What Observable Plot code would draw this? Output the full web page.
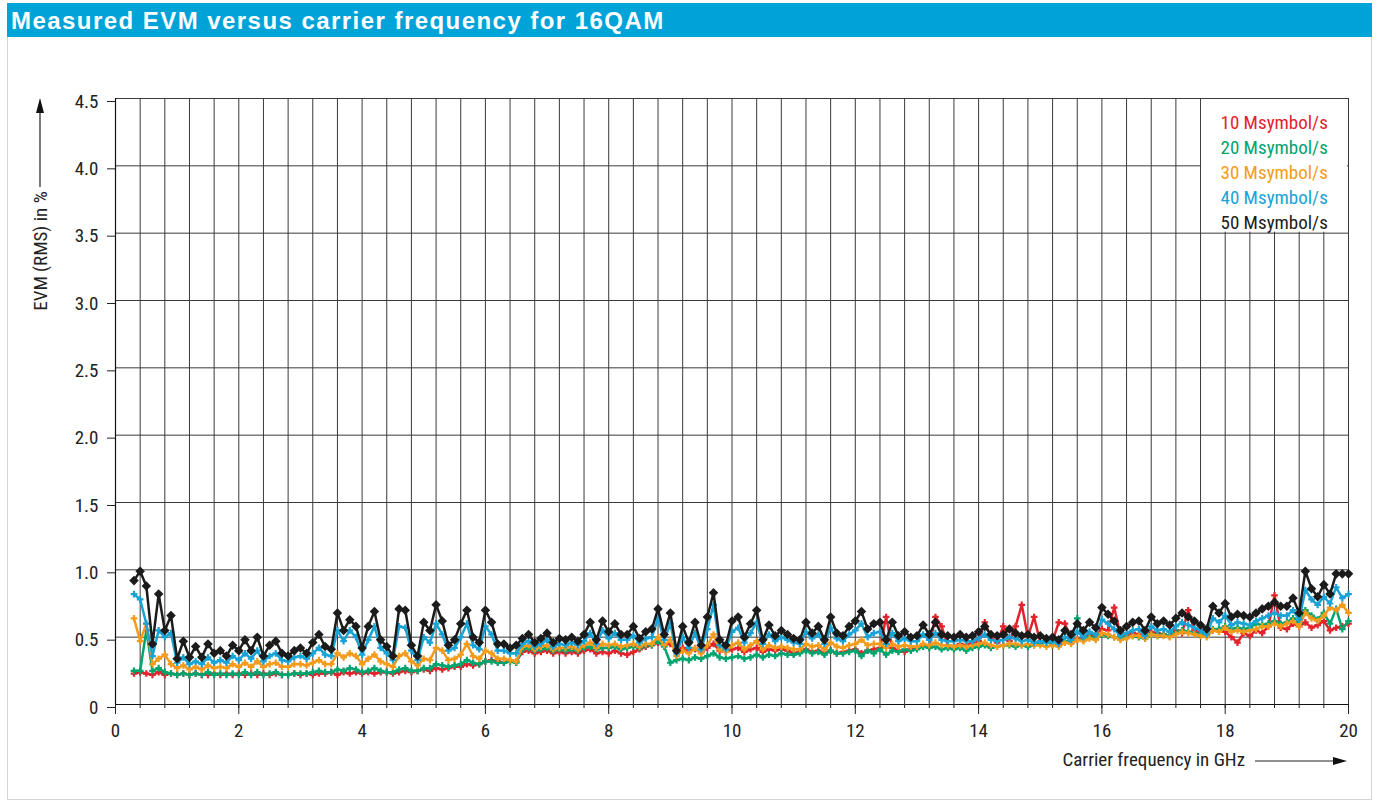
<!DOCTYPE html>
<html><head><meta charset="utf-8">
<script src="https://cdn.jsdelivr.net/npm/d3@7"></script>
<script src="https://cdn.jsdelivr.net/npm/@observablehq/plot@0.6"></script>
<style>
body{margin:0;background:#fff;}
#frame{position:absolute;left:7px;top:3px;width:1365px;height:797px;border:1px solid #d3d6d8;border-top:none;box-sizing:border-box;}
#title{position:absolute;left:7px;top:3px;width:1365px;height:34px;background:#00a3d7;color:#fff;font:bold 24px "Liberation Sans",Arial,sans-serif;letter-spacing:1.45px;line-height:35px;padding-left:4px;box-sizing:border-box;white-space:nowrap;}
#chart{position:absolute;left:8px;top:37px;}
</style></head>
<body>
<div id="frame"></div>
<div id="title">Measured EVM versus carrier frequency for 16QAM</div>
<div id="chart"></div>
<script>
const FONT = '"Liberation Sans Narrow","Roboto Condensed","DejaVu Sans Condensed","Liberation Sans",sans-serif';

// Carrier frequency in GHz
const freqGHz = [
 0.3,0.4,0.5,0.6,0.7,0.8,0.9,
 1.0,1.1,1.2,1.3,1.4,1.5,1.6,1.7,1.8,1.9,
 2.0,2.1,2.2,2.3,2.4,2.5,2.6,2.7,2.8,2.9,
 3.0,3.1,3.2,3.3,3.4,3.5,3.6,3.7,3.8,3.9,
 4.0,4.1,4.2,4.3,4.4,4.5,4.6,4.7,4.8,4.9,
 5.0,5.1,5.2,5.3,5.4,5.5,5.6,5.7,5.8,5.9,
 6.0,6.1,6.2,6.3,6.4,6.5,6.6,6.7,6.8,6.9,
 7.0,7.1,7.2,7.3,7.4,7.5,7.6,7.7,7.8,7.9,
 8.0,8.1,8.2,8.3,8.4,8.5,8.6,8.7,8.8,8.9,
 9.0,9.1,9.2,9.3,9.4,9.5,9.6,9.7,9.8,9.9,
 10.0,10.1,10.2,10.3,10.4,10.5,10.6,10.7,10.8,10.9,
 11.0,11.1,11.2,11.3,11.4,11.5,11.6,11.7,11.8,11.9,
 12.0,12.1,12.2,12.3,12.4,12.5,12.6,12.7,12.8,12.9,
 13.0,13.1,13.2,13.3,13.4,13.5,13.6,13.7,13.8,13.9,
 14.0,14.1,14.2,14.3,14.4,14.5,14.6,14.7,14.8,14.9,
 15.0,15.1,15.2,15.3,15.4,15.5,15.6,15.7,15.8,15.9,
 16.0,16.1,16.2,16.3,16.4,16.5,16.6,16.7,16.8,16.9,
 17.0,17.1,17.2,17.3,17.4,17.5,17.6,17.7,17.8,17.9,
 18.0,18.1,18.2,18.3,18.4,18.5,18.6,18.7,18.8,18.9,
 19.0,19.1,19.2,19.3,19.4,19.5,19.6,19.7,19.8,19.9,20.0
];

// EVM (RMS) in % per symbol rate
const evm10 = [
 0.23,0.24,0.23,0.22,0.24,0.22,0.23,
 0.22,0.23,0.22,0.23,0.22,0.22,0.23,0.22,0.23,0.22,
 0.23,0.22,0.23,0.22,0.23,0.22,0.23,0.22,0.22,0.23,
 0.22,0.23,0.22,0.23,0.23,0.24,0.22,0.24,0.23,0.24,
 0.23,0.24,0.23,0.24,0.24,0.23,0.24,0.25,0.24,0.25,
 0.26,0.25,0.27,0.26,0.27,0.28,0.28,0.30,0.29,0.30,
 0.32,0.33,0.32,0.31,0.33,0.32,0.39,0.40,0.38,0.39,
 0.40,0.38,0.39,0.38,0.39,0.38,0.40,0.41,0.38,0.39,
 0.38,0.40,0.38,0.37,0.39,0.41,0.43,0.44,0.46,0.44,
 0.45,0.40,0.42,0.40,0.41,0.39,0.42,0.45,0.40,0.39,
 0.41,0.42,0.39,0.41,0.42,0.39,0.41,0.40,0.41,0.40,
 0.38,0.39,0.41,0.39,0.40,0.38,0.40,0.38,0.39,0.40,
 0.41,0.38,0.40,0.41,0.42,0.65,0.42,0.40,0.39,0.41,
 0.42,0.44,0.43,0.65,0.58,0.44,0.43,0.45,0.44,0.46,
 0.47,0.61,0.50,0.46,0.58,0.47,0.58,0.74,0.50,0.65,
 0.46,0.48,0.47,0.61,0.60,0.49,0.48,0.50,0.52,0.51,
 0.56,0.55,0.72,0.52,0.51,0.53,0.52,0.50,0.54,0.53,
 0.52,0.51,0.55,0.53,0.70,0.55,0.53,0.52,0.55,0.56,
 0.54,0.50,0.46,0.53,0.51,0.55,0.53,0.58,0.81,0.57,
 0.56,0.60,0.58,0.61,0.57,0.59,0.62,0.55,0.57,0.58,0.60
];
const evm20 = [
 0.25,0.25,0.55,0.25,0.27,0.24,0.23,
 0.22,0.23,0.22,0.23,0.22,0.24,0.22,0.23,0.22,0.23,
 0.22,0.24,0.22,0.24,0.22,0.23,0.24,0.22,0.22,0.23,
 0.23,0.23,0.24,0.25,0.24,0.24,0.26,0.25,0.27,0.26,
 0.24,0.25,0.27,0.25,0.24,0.24,0.26,0.27,0.25,0.25,
 0.27,0.27,0.30,0.29,0.28,0.29,0.30,0.33,0.31,0.30,
 0.32,0.32,0.31,0.31,0.32,0.31,0.41,0.42,0.40,0.41,
 0.42,0.40,0.41,0.40,0.41,0.40,0.42,0.43,0.41,0.42,
 0.42,0.43,0.41,0.42,0.43,0.42,0.44,0.44,0.47,0.43,
 0.31,0.33,0.34,0.33,0.35,0.34,0.36,0.38,0.35,0.34,
 0.35,0.36,0.34,0.35,0.37,0.35,0.37,0.36,0.38,0.37,
 0.37,0.38,0.40,0.38,0.39,0.37,0.40,0.38,0.38,0.39,
 0.40,0.36,0.40,0.38,0.41,0.37,0.40,0.39,0.41,0.40,
 0.41,0.43,0.42,0.43,0.41,0.42,0.41,0.42,0.40,0.42,
 0.43,0.44,0.42,0.43,0.44,0.44,0.43,0.44,0.43,0.44,
 0.45,0.47,0.44,0.45,0.47,0.46,0.64,0.48,0.50,0.49,
 0.52,0.51,0.50,0.49,0.50,0.51,0.50,0.49,0.52,0.51,
 0.52,0.51,0.53,0.55,0.54,0.53,0.52,0.52,0.56,0.56,
 0.58,0.56,0.57,0.56,0.57,0.60,0.59,0.60,0.62,0.60,
 0.61,0.64,0.60,0.70,0.66,0.63,0.68,0.60,0.71,0.56,0.62
];
const evm30 = [
 0.64,0.47,0.60,0.30,0.34,0.37,0.30,
 0.27,0.29,0.26,0.28,0.26,0.29,0.27,0.28,0.27,0.30,
 0.28,0.31,0.28,0.32,0.28,0.30,0.31,0.28,0.28,0.30,
 0.30,0.29,0.31,0.33,0.30,0.30,0.38,0.35,0.38,0.36,
 0.30,0.34,0.37,0.32,0.30,0.28,0.36,0.38,0.32,0.29,
 0.34,0.33,0.42,0.40,0.33,0.34,0.37,0.45,0.36,0.34,
 0.40,0.38,0.34,0.34,0.33,0.32,0.43,0.44,0.41,0.43,
 0.44,0.41,0.42,0.42,0.43,0.41,0.44,0.46,0.42,0.45,
 0.44,0.45,0.43,0.44,0.45,0.43,0.45,0.45,0.50,0.44,
 0.48,0.36,0.40,0.38,0.42,0.38,0.44,0.52,0.41,0.39,
 0.44,0.46,0.41,0.44,0.47,0.41,0.44,0.42,0.43,0.42,
 0.41,0.41,0.45,0.43,0.44,0.41,0.46,0.43,0.42,0.44,
 0.45,0.48,0.44,0.45,0.45,0.42,0.45,0.43,0.44,0.43,
 0.43,0.45,0.44,0.46,0.44,0.44,0.43,0.44,0.43,0.44,
 0.45,0.46,0.44,0.43,0.44,0.45,0.45,0.44,0.45,0.44,
 0.44,0.43,0.44,0.43,0.46,0.45,0.48,0.47,0.49,0.48,
 0.53,0.52,0.50,0.48,0.49,0.51,0.51,0.49,0.52,0.51,
 0.51,0.50,0.52,0.54,0.53,0.52,0.51,0.50,0.55,0.54,
 0.57,0.54,0.55,0.54,0.55,0.56,0.58,0.58,0.60,0.58,
 0.60,0.62,0.58,0.68,0.64,0.62,0.66,0.72,0.70,0.74,0.68
];
const evm40 = [
 0.82,0.78,0.60,0.36,0.55,0.50,0.53,
 0.31,0.35,0.30,0.32,0.30,0.35,0.31,0.33,0.31,0.36,
 0.33,0.38,0.34,0.40,0.32,0.36,0.38,0.33,0.32,0.35,
 0.36,0.34,0.38,0.42,0.37,0.36,0.55,0.47,0.55,0.50,
 0.37,0.48,0.58,0.42,0.38,0.33,0.58,0.57,0.40,0.33,
 0.50,0.46,0.60,0.52,0.40,0.42,0.50,0.60,0.44,0.41,
 0.58,0.52,0.40,0.40,0.38,0.38,0.45,0.47,0.43,0.45,
 0.48,0.43,0.45,0.44,0.46,0.44,0.47,0.53,0.45,0.55,
 0.49,0.53,0.48,0.48,0.51,0.46,0.49,0.50,0.64,0.48,
 0.60,0.38,0.50,0.42,0.53,0.41,0.56,0.74,0.44,0.41,
 0.54,0.57,0.46,0.53,0.61,0.45,0.52,0.47,0.50,0.48,
 0.46,0.45,0.54,0.49,0.52,0.45,0.57,0.49,0.47,0.52,
 0.55,0.60,0.50,0.53,0.54,0.45,0.53,0.47,0.49,0.47,
 0.47,0.52,0.48,0.53,0.48,0.47,0.47,0.48,0.47,0.47,
 0.49,0.52,0.48,0.47,0.48,0.50,0.49,0.47,0.48,0.46,
 0.47,0.46,0.47,0.45,0.50,0.48,0.54,0.50,0.54,0.52,
 0.63,0.60,0.56,0.51,0.53,0.55,0.56,0.51,0.58,0.55,
 0.56,0.54,0.58,0.61,0.59,0.57,0.55,0.52,0.64,0.61,
 0.66,0.59,0.61,0.60,0.59,0.62,0.64,0.66,0.68,0.66,
 0.66,0.70,0.63,0.85,0.78,0.74,0.80,0.75,0.87,0.79,0.82
];
const evm50 = [
 0.92,0.99,0.88,0.45,0.82,0.55,0.66,
 0.34,0.47,0.35,0.43,0.35,0.45,0.38,0.40,0.36,0.44,
 0.40,0.48,0.40,0.50,0.36,0.44,0.47,0.38,0.36,0.40,
 0.42,0.38,0.46,0.52,0.43,0.41,0.68,0.55,0.63,0.58,
 0.42,0.58,0.69,0.48,0.43,0.36,0.71,0.70,0.44,0.36,
 0.61,0.55,0.74,0.62,0.44,0.48,0.60,0.70,0.50,0.46,
 0.70,0.61,0.45,0.45,0.42,0.44,0.49,0.52,0.46,0.49,
 0.53,0.46,0.49,0.48,0.50,0.47,0.52,0.61,0.48,0.62,
 0.54,0.60,0.52,0.52,0.58,0.49,0.54,0.56,0.71,0.52,
 0.68,0.40,0.58,0.46,0.61,0.44,0.65,0.83,0.48,0.44,
 0.62,0.65,0.50,0.60,0.70,0.48,0.59,0.51,0.55,0.52,
 0.49,0.48,0.61,0.53,0.58,0.48,0.65,0.53,0.51,0.58,
 0.62,0.69,0.56,0.60,0.61,0.48,0.61,0.51,0.54,0.50,
 0.51,0.59,0.52,0.61,0.52,0.51,0.50,0.52,0.50,0.51,
 0.54,0.58,0.52,0.51,0.52,0.56,0.53,0.51,0.52,0.50,
 0.51,0.49,0.50,0.48,0.55,0.52,0.60,0.55,0.61,0.57,
 0.72,0.67,0.62,0.55,0.58,0.61,0.62,0.55,0.65,0.60,
 0.62,0.59,0.64,0.68,0.65,0.62,0.59,0.56,0.73,0.68,
 0.75,0.65,0.67,0.66,0.65,0.68,0.71,0.73,0.76,0.73,
 0.73,0.79,0.68,0.99,0.86,0.80,0.89,0.82,0.97,0.97,0.97
];

const seriesNames = ["10 Msymbol/s","20 Msymbol/s","30 Msymbol/s","40 Msymbol/s","50 Msymbol/s"];
const seriesColors = ["#e3232c","#00a46e","#f59b1b","#18a3d6","#1b1b1b"];
const seriesValues = [evm10, evm20, evm30, evm40, evm50];

const xTicks = [0,2,4,6,8,10,12,14,16,18,20];
const yTicks = [0,0.5,1.0,1.5,2.0,2.5,3.0,3.5,4.0,4.5];
const gridStepX = 0.4;

const series = seriesNames.map((name, k) => ({
  name, color: seriesColors[k],
  rows: freqGHz.map((f, i) => ({f, v: seriesValues[k][i]}))
}));

const minorX = d3.range(0, 20 + 1e-6, gridStepX);
const legendCell = {x1: 17.6, x2: 20, y1: 3.5, y2: 4.5};

const marks = [
  Plot.ruleX(minorX.slice(1), {stroke: "#3a3a3a", strokeWidth: 1}),
  Plot.ruleY(yTicks.slice(1), {stroke: "#3a3a3a", strokeWidth: 1}),
  Plot.rect([legendCell], {x1: "x1", x2: "x2", y1: "y1", y2: "y2", fill: "white", insetLeft: 1, insetRight: 1, insetTop: 1, insetBottom: 1}),
  Plot.ruleX([0], {stroke: "#111", strokeWidth: 1.2}),
  Plot.ruleY([0], {stroke: "#111", strokeWidth: 1.2}),
  Plot.axisX({ticks: minorX, tickSize: 4, text: null, label: null, stroke: "#222"}),
  Plot.axisX({ticks: xTicks, tickSize: 10, tickPadding: 9, label: null, stroke: "#222", fill: "#222", fontSize: 19}),
  Plot.axisY({ticks: yTicks, tickSize: 8, tickPadding: 9, label: null, stroke: "#222", fill: "#222", fontSize: 19, dy: 3,
    tickFormat: d => d === 0 ? "0" : d.toFixed(1)})
];
series.forEach((s, k) => {
  const isBlack = k === 4;
  marks.push(Plot.line(s.rows, {x: "f", y: "v", stroke: s.color, strokeWidth: 2.5, strokeLinejoin: "round"}));
  marks.push(Plot.dot(s.rows, {x: "f", y: "v", fill: s.color, stroke: "none",
    symbol: isBlack ? "diamond2" : "cross", r: isBlack ? 4.3 : 2.8}));
});
series.forEach((s, k) => {
  marks.push(Plot.text([s.name], {frameAnchor: "top-right", textAnchor: "start", dx: -128, dy: 17 + 25 * k,
    fill: s.color, fontSize: 19, text: d => d}));
});

const W = 1363, H = 762, ML = 107, MR = 23, MT = 61, MB = 95;
const plot = Plot.plot({
  width: W, height: H,
  marginLeft: ML, marginRight: MR, marginTop: MT, marginBottom: MB,
  x: {domain: [0, 20]},
  y: {domain: [0, 4.5]},
  style: {fontFamily: FONT, fontSize: "19px", color: "#222", background: "transparent", overflow: "visible"},
  marks
});
document.getElementById("chart").appendChild(plot);

// axis titles with arrows
const svg = d3.select(plot);
const g = svg.append("g").attr("font-family", FONT).attr("fill", "#222");
const yc = 214, yx = 32;
g.append("text").attr("transform", `translate(${yx},${yc}) rotate(-90)`)
  .attr("text-anchor", "middle").attr("dy", "0.35em").attr("font-size", 19)
  .text("EVM (RMS) in %");
g.append("line").attr("x1", yx).attr("x2", yx).attr("y1", 150).attr("y2", 74).attr("stroke", "#222").attr("stroke-width", 1.2);
g.append("path").attr("d", `M${yx},${MT}L${yx-4},${MT+15}L${yx+4},${MT+15}Z`).attr("fill", "#111");

const xl = W - MR, ay = H - MB + 57;
g.append("text").attr("x", 1237).attr("y", H - MB + 62).attr("text-anchor", "end").attr("font-size", 19)
  .text("Carrier frequency in GHz");
g.append("line").attr("x1", 1247).attr("x2", xl - 12).attr("y1", ay).attr("y2", ay).attr("stroke", "#222").attr("stroke-width", 1.2);
g.append("path").attr("d", `M${xl-1},${ay}L${xl-15},${ay-4}L${xl-15},${ay+4}Z`).attr("fill", "#111");
</script>
</body></html>
